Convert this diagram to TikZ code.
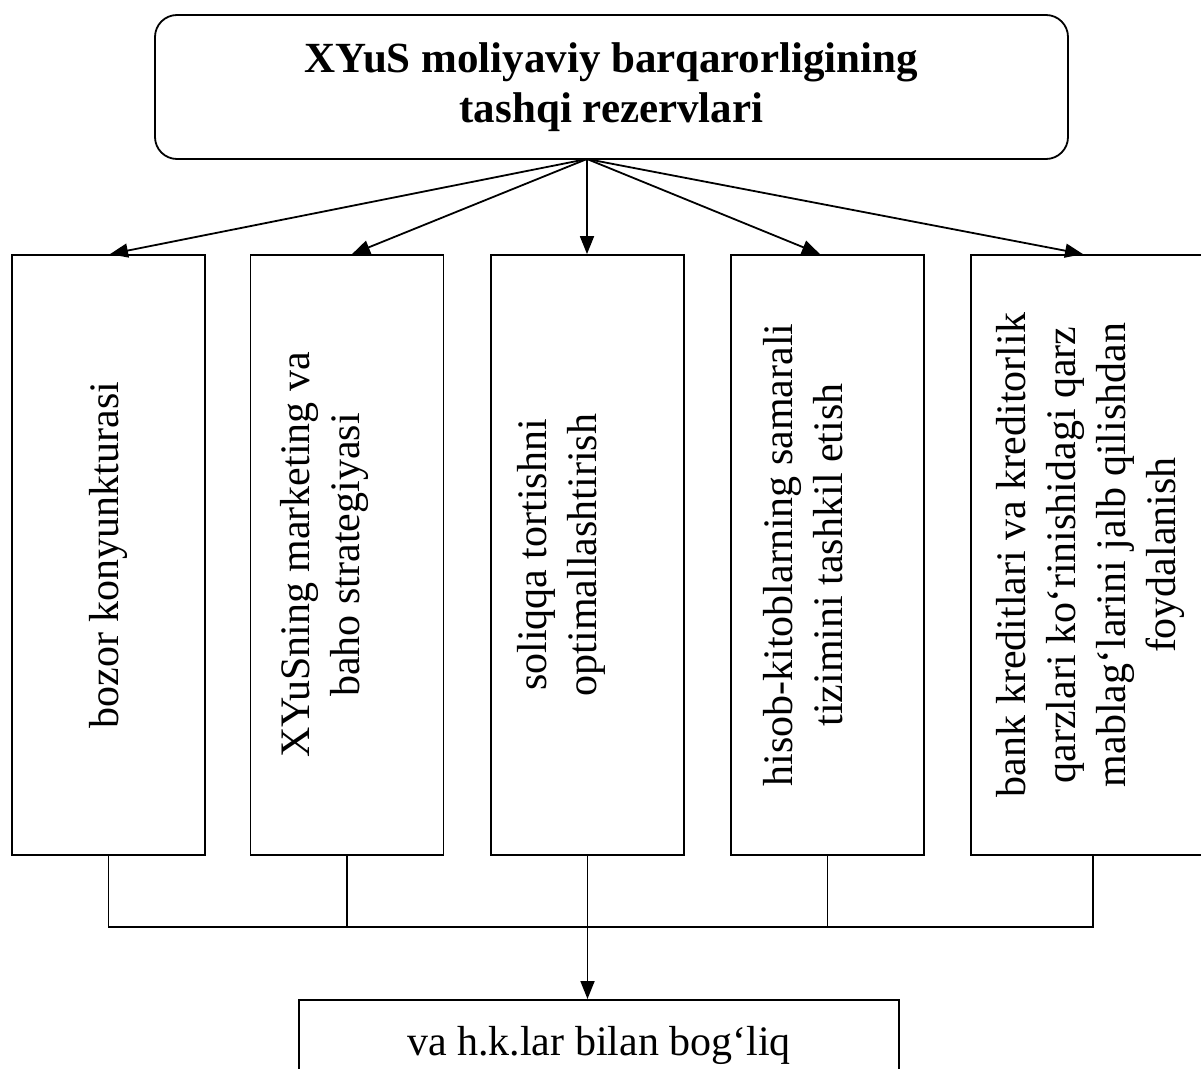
\documentclass[tikz,border=0pt]{standalone}
\usepackage{fontspec}
\setmainfont{Liberation Serif}
\usetikzlibrary{arrows.meta,calc}
\begin{document}
\begin{tikzpicture}[x=1pt,y=-1pt,
  line width=1.8pt,
  frame/.style={draw, line width=1.8pt, inner sep=0pt,
    minimum width=193pt, minimum height=600pt},
  vtext/.style={rotate=90, align=center, inner sep=0pt,
    font=\fontsize{42}{50}\selectfont},
  arr/.style={-{Triangle[length=18pt,width=14pt]}}]
% page area
\path[use as bounding box, clip] (0,0) rectangle (1201,1068);
\fill[white] (0,0) rectangle (1201,1068);

% heading
\node[draw, rounded corners=22pt, minimum width=913pt, minimum height=144pt,
  inner sep=0pt, align=center, font=\bfseries\fontsize{43}{50}\selectfont]
  (top) at (611.5,87) {XYuS moliyaviy barqarorligining\\tashqi rezervlari};

% five reserve boxes
\node[frame] (b1) at (108.5,555) {};
\node[frame] (b2) at (347,555) {};
\node[frame] (b3) at (587.5,555) {};
\node[frame] (b4) at (827.5,555) {};
\node[frame, minimum width=244pt] (b5) at (1093,555) {};

\node[vtext] (t1) at (108,555) {bozor konyunkturasi};
\node[vtext] (t2) at (324,555) {XYuSning marketing va\\baho strategiyasi};
\node[vtext] (t3) at (561,555) {soliqqa tortishni\\optimallashtirish};
\node[vtext] (t4) at (803,555) {hisob-kitoblarning samarali\\tizimini tashkil etish};
\node[vtext] (t5) at (1090,555) {bank kreditlari va kreditorlik\\qarzlari ko‘rinishidagi qarz\\mablag‘larini jalb qilishdan\\foydalanish};

% result box
\node[draw, minimum width=600pt, minimum height=92pt, inner sep=0pt,
  font=\fontsize{42}{50}\selectfont, anchor=north]
  (bottom) at (599,999) {va h.k.lar bilan bog‘liq};

% fan of arrows from the heading
\coordinate (hub) at (587,159);
\draw[arr] (hub) -- ($(b1.north)+(1.5,0)$);
\draw[arr] (hub) -- ($(b2.north)+(5,0)$);
\draw[arr] (hub) -- (hub |- b3.north);
\draw[arr] (hub) -- ($(b4.north)+(-7.5,0)$);
\draw[arr] (hub) -- ($(b5.north)+(-10,0)$);

% collecting bus
\coordinate (bus) at (587,927);
\draw (b1.south) -- (b1.south |- bus) -- (b5.south |- bus) -- (b5.south);
\draw (b2.south) -- (b2.south |- bus);
\draw (b4.south) -- (b4.south |- bus);
\draw[arr] (b3.south) -- (b3.south |- bottom.north);
\end{tikzpicture}
\end{document}
